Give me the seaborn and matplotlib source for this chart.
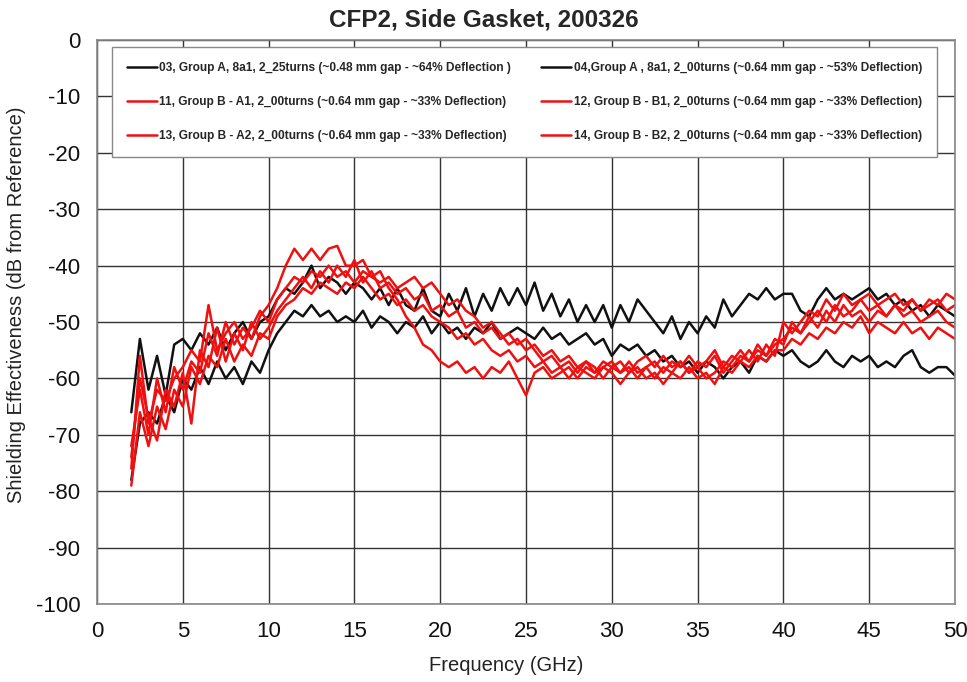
import numpy as np
import pandas as pd
import seaborn as sns
import matplotlib.pyplot as plt

sns.set_style("white")
plt.rcParams['font.family'] = ['Liberation Sans', 'DejaVu Sans']
plt.rcParams['axes.unicode_minus'] = False

# frequency grid (GHz), 0.5 GHz steps from 2 to 50
freq = np.arange(2.0, 50.01, 0.5)

# Sample 03 (black, lower trace above 25 GHz)
s03 = [-78, -68, -66, -68, -63, -66, -60, -62, -58, -61,
       -57, -60, -58, -61, -57, -59, -55, -52, -50, -48,
       -49, -47, -49, -48, -50, -49, -50, -48, -51, -49,
       -50, -52, -50, -51, -49, -52, -50, -52, -51, -53,
       -51, -52, -50, -53, -52, -51, -52, -53, -51, -53,
       -52, -54, -53, -52, -54, -53, -56, -54, -55, -54,
       -56, -55, -57, -56, -58, -57, -59, -57, -58, -60,
       -58, -57, -59, -56, -57, -55, -56, -55, -57, -58,
       -57, -55, -57, -58, -56, -57, -56, -58, -57, -58,
       -56, -55, -58, -59, -58, -58, -59.5]

# Sample 04 (black, upper trace)
s04 = [-66, -53, -62, -56, -63, -54, -53, -55, -52, -54,
       -51, -55, -52, -50, -53, -50, -49, -46, -44, -45,
       -43, -40, -44, -42, -43, -45, -43, -44, -46, -44,
       -47, -44, -47, -48, -44, -48, -49, -45, -48, -44,
       -49, -45, -48, -44, -47, -44, -47, -43, -48, -45,
       -49, -46, -50, -47, -50, -47, -51, -47, -50, -46,
       -48, -50, -52, -49, -53, -50, -52, -49, -51, -46,
       -49, -47, -45, -46, -44, -46, -45, -45, -48, -49,
       -46, -44, -46, -45, -46, -45, -44, -46, -45, -47,
       -46, -48, -47, -49, -47, -48, -49]

# Sample 11 (red, highest peak near 12-14 GHz)
s11 = [-72, -62, -70, -60, -66, -58, -62, -57, -59, -52,
       -56, -50, -54, -51, -53, -49, -47, -44, -40, -37,
       -39, -37, -39, -37, -36.5, -40, -40, -39, -42, -41,
       -44, -46, -49, -51, -54, -55, -57, -58, -57, -59,
       -58, -60, -58, -59, -57, -60, -63, -59, -58, -60,
       -59, -58, -60, -58, -59, -57, -58, -59, -57, -59,
       -58, -60, -58, -59, -57, -59, -58, -60, -59, -57,
       -58, -56, -57, -55, -56, -54, -53, -51, -52, -50,
       -48, -50, -47, -49, -48, -46, -48, -47, -49, -47,
       -48, -46, -48, -47, -46, -48, -47]

# Sample 12 (red)
s12 = [-76, -56, -68, -62, -64, -60, -58, -55, -57, -47,
       -55, -52, -50, -53, -51, -48, -50, -46, -44, -42,
       -43, -41, -42, -40, -42, -41, -43, -41, -42, -43,
       -42, -44, -43, -42, -44, -43, -45, -47, -46, -48,
       -49, -51, -50, -52, -54, -53, -55, -54, -56, -55,
       -57, -56, -58, -57, -59, -58, -57, -59, -58, -60,
       -58, -57, -59, -57, -58, -56, -58, -57, -55, -58,
       -56, -57, -55, -57, -54, -56, -50, -52, -50, -48,
       -49, -46, -48, -45, -47, -46, -45, -47, -46, -45,
       -47, -46, -48, -46, -47, -45, -46]

# Sample 13 (red)
s13 = [-79, -66, -72, -65, -69, -62, -65, -58, -61, -56,
       -58, -53, -57, -54, -56, -52, -53, -49, -47, -46,
       -44, -45, -43, -44, -45, -43, -44, -42, -44, -46,
       -45, -47, -46, -48, -47, -49, -50, -51, -53, -52,
       -54, -53, -55, -56, -55, -57, -56, -58, -57, -59,
       -58, -60, -58, -59, -60, -58, -59, -61, -59, -58,
       -60, -59, -61, -59, -60, -58, -60, -59, -61, -58,
       -59, -57, -58, -56, -57, -55, -55, -53, -54, -52,
       -53, -51, -52, -50, -51, -49, -52, -50, -51, -52,
       -50, -52, -51, -53, -51, -52, -53]

# Sample 14 (red)
s14 = [-74, -60, -67, -71, -62, -65, -59, -68, -55, -58,
       -51, -57, -52, -55, -50, -53, -51, -48, -46, -44,
       -42, -44, -41, -43, -40, -42, -39, -43, -41, -44,
       -43, -45, -44, -46, -45, -48, -47, -49, -48, -51,
       -50, -52, -51, -53, -52, -54, -53, -55, -57, -56,
       -58, -57, -59, -57, -58, -60, -58, -57, -59, -57,
       -56, -58, -56, -58, -57, -59, -57, -58, -56, -59,
       -57, -55, -57, -54, -56, -53, -54, -50, -52, -49,
       -51, -48, -50, -47, -49, -48, -50, -48, -49, -47,
       -49, -48, -50, -49, -48, -50, -51]

labels = {
    "03": "03, Group A, 8a1, 2_25turns (~0.48 mm gap - ~64% Deflection )",
    "04": "04,Group A , 8a1, 2_00turns (~0.64 mm gap - ~53% Deflection)",
    "11": "11, Group B - A1, 2_00turns (~0.64 mm gap - ~33% Deflection)",
    "12": "12, Group B - B1, 2_00turns (~0.64 mm gap - ~33% Deflection)",
    "13": "13, Group B - A2, 2_00turns (~0.64 mm gap - ~33% Deflection)",
    "14": "14, Group B - B2, 2_00turns (~0.64 mm gap - ~33% Deflection)",
}
series = {"03": s03, "04": s04, "11": s11, "12": s12, "13": s13, "14": s14}
colors = {"03": "#111111", "04": "#111111", "11": "#f01010",
          "12": "#f01010", "13": "#f01010", "14": "#f01010"}

fig = plt.figure(figsize=(9.67, 6.82), dpi=100)
ax = fig.add_axes([0.1003, 0.1144, 0.8873, 0.8269])

for key in ["03", "04", "11", "12", "13", "14"]:
    sns.lineplot(x=freq, y=series[key], color=colors[key], linewidth=1.8,
                 label=labels[key], ax=ax)

ax.set_xlim(0, 50)
ax.set_ylim(-100, 0)
ax.set_xticks(range(0, 51, 5))
ax.set_yticks(range(-100, 1, 10))
ax.grid(True, color="#333333", linewidth=1.0)
for side in ax.spines.values():
    side.set_color("#888888")
    side.set_linewidth(1.2)
ax.tick_params(axis="both", direction="out", length=6, width=1,
               color="#555555", labelsize=16, labelcolor="#111111", pad=6)

fig.suptitle("CFP2, Side Gasket, 200326", fontsize=17.5, fontweight="bold",
             x=0.5, y=0.988, va="top")
ax.set_xlabel("Frequency (GHz)", fontsize=14.5, color="#222222")
ax.xaxis.set_label_coords(0.477, -0.093)
ax.set_ylabel("Shielding Effectiveness (dB from Reference)", fontsize=14.5,
              color="#222222")
ax.yaxis.set_label_coords(-0.083, 0.53)

# legend: two columns, 03/11/13 left and 04/12/14 right
handles, labs = ax.get_legend_handles_labels()
order = [0, 2, 4, 1, 3, 5]
leg = ax.legend([handles[i] for i in order], [labs[i] for i in order],
                ncol=2, loc="upper left", bbox_to_anchor=(0.0175, 0.801, 0.9615, 0.187),
                mode="expand", prop={"size": 8.6, "weight": "bold"},
                handlelength=2.5, handletextpad=0.2, labelspacing=1.85,
                borderpad=1.25, borderaxespad=0, fancybox=False, framealpha=1)
leg.get_frame().set_edgecolor("#888888")
leg.get_frame().set_linewidth(1.0)

plt.savefig("out.png", dpi=100)
